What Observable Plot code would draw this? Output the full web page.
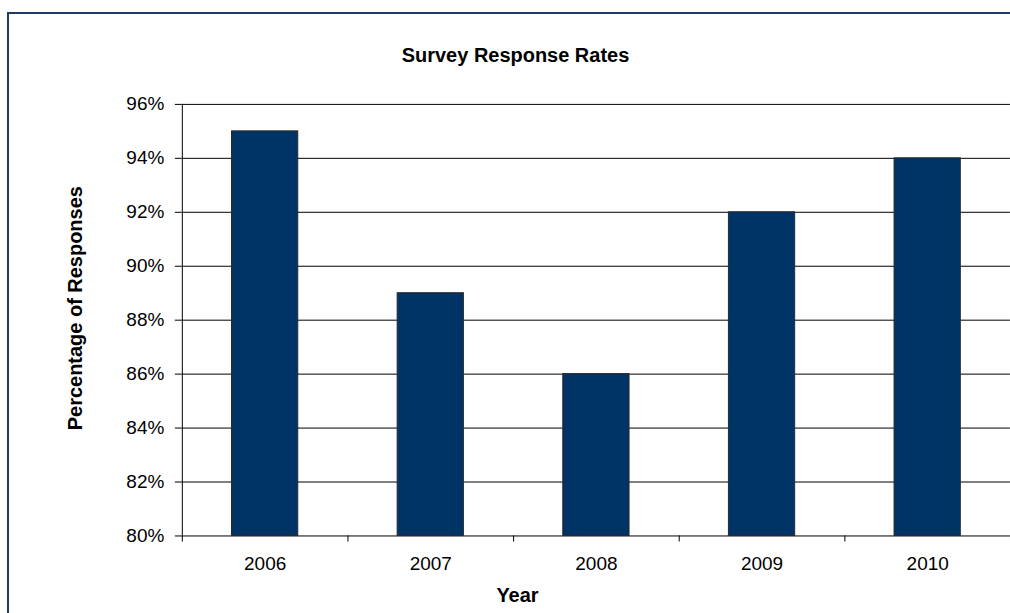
<!DOCTYPE html>
<html>
<head>
<meta charset="utf-8">
<script src="https://cdn.jsdelivr.net/npm/d3@7"></script>
<script src="https://cdn.jsdelivr.net/npm/@observablehq/plot@0.6"></script>
<style>
  html, body { margin: 0; padding: 0; background: #fff; overflow: hidden; }
  #page {
    position: relative; width: 1010px; height: 613px; overflow: hidden;
    font-family: "Liberation Sans", Arial, sans-serif;
  }
  #frame {
    position: absolute; left: 7px; top: 12px; width: 1300px; height: 900px;
    border: 2px solid #1f3a66; box-sizing: border-box;
  }
  #chart { position: absolute; left: 0; top: 0; width: 1010px; height: 613px; overflow: hidden; }
</style>
</head>
<body>
<div id="page">
  <div id="frame"></div>
  <div id="chart"></div>
</div>
<script>
// Survey response rates by year
const years = ["2006", "2007", "2008", "2009", "2010"];
const responseRates = [95, 89, 86, 92, 94];
const yTicks = [80, 82, 84, 86, 88, 90, 92, 94, 96];
const chartTitle = "Survey Response Rates";
const xTitle = "Year";
const yTitle = "Percentage of Responses";

const rows = years.map((year, i) => ({year, i, value: responseRates[i]}));
const n = years.length;
const boundaries = d3.range(n + 1);
const centers = years.map((_, i) => i + 0.5);

const W = 1011, H = 613;
const marginLeft = 182, marginTop = 104, marginBottom = 77, marginRight = 0;
const step = (W - marginLeft - marginRight) / n;
const inset = step * 0.3;

const chart = Plot.plot({
  width: W,
  height: H,
  marginLeft, marginTop, marginBottom, marginRight,
  style: {fontFamily: "'Liberation Sans', Arial, sans-serif", fontSize: "19px", color: "#000", background: "transparent"},
  x: {domain: [0, n], axis: null},
  y: {domain: [yTicks[0], yTicks[yTicks.length - 1]], axis: null},
  marks: [
    // horizontal gridlines
    Plot.ruleY(yTicks, {stroke: "#000", strokeWidth: 1}),
    // bars
    Plot.rect(rows, {
      x1: "i", x2: d => d.i + 1, y1: yTicks[0], y2: "value",
      insetLeft: inset, insetRight: inset,
      fill: "#003366", stroke: "#2a2a2a", strokeWidth: 1
    }),
    // vertical axis line
    Plot.ruleX([0], {stroke: "#000", strokeWidth: 1}),
    // y axis ticks and labels
    Plot.axisY({
      ticks: yTicks, tickSize: 7, tickPadding: 11,
      tickFormat: d => d + "%", fontSize: 19, stroke: "#000", label: null
    }),
    // x axis ticks at category boundaries
    Plot.axisX({ticks: boundaries, tickSize: 6, tickFormat: () => "", stroke: "#000", label: null}),
    // x axis category labels
    Plot.axisX({
      ticks: centers, tickSize: 0, tickPadding: 21,
      tickFormat: d => years[Math.floor(d)], fontSize: 19, label: null
    }),
    // titles
    Plot.text([chartTitle], {frameAnchor: "top", dx: -81, dy: -57, fontSize: 20, fontWeight: "bold", fill: "#000"}),
    Plot.text([xTitle], {frameAnchor: "bottom", dx: -79, dy: 66, fontSize: 20, fontWeight: "bold", fill: "#000"}),
    Plot.text([yTitle], {frameAnchor: "left", textAnchor: "middle", rotate: -90, dx: -107, dy: -12, fontSize: 20, fontWeight: "bold", fill: "#000"})
  ]
});

document.getElementById("chart").appendChild(chart);
</script>
</body>
</html>
